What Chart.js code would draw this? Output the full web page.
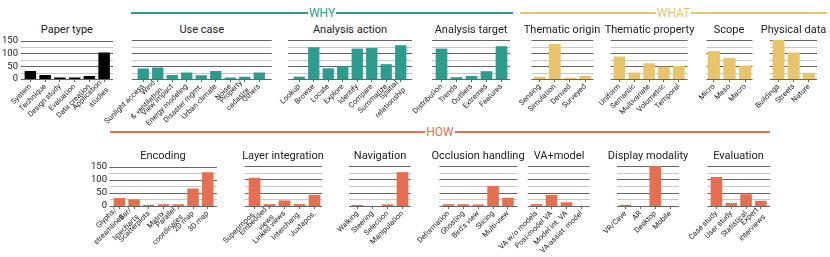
<!DOCTYPE html>
<html>
<head>
<meta charset="utf-8">
<script src="https://cdn.jsdelivr.net/npm/chart.js@4"></script>
<style>
  body { margin: 0; width: 830px; height: 257px; background: #fff; position: relative; overflow: hidden; font-family: Roboto, sans-serif; }
  canvas { position: absolute; }
  .title { position: absolute; font-size: 11px; color: #222; text-align: center; white-space: nowrap; }
  .sect { position: absolute; height: 14px; display: flex; align-items: center; font-size: 12px; }
  .sect .ln { flex: 1; height: 2px; }
  .sect span { padding: 0 1px; line-height: 14px; }
</style>
</head>
<body>
<script>
// ---- data ----
const paperTypeLabels = ["System", "Technique", "Design study", "Evaluation", "Data creation", ["Application", "studies"]];
const paperTypeValues = [31, 16, 6, 6, 12, 104];

const useCaseLabels = ["Sunlight access", ["Wind", "& ventilation"], "View impact", "Energy modeling", "Disaster mgmt.", "Urban climate", "Noise", ["Property", "cadastre"], "Others"];
const useCaseValues = [40, 44, 15, 25, 14, 31, 6, 9, 25];

const actionLabels = ["Lookup", "Browse", "Locate", "Explore", "Identify", "Compare", "Summarize", ["Spatial", "relationship"]];
const actionValues = [9, 122, 41, 49, 117, 119, 57, 130];

const targetLabels = ["Distribution", "Trends", "Outliers", "Extremes", "Features"];
const targetValues = [117, 7, 12, 30, 126];

const originLabels = ["Sensing", "Simulation", "Derived", "Surveyed"];
const originValues = [9, 135, 5, 12];

const propertyLabels = ["Uniform", "Semantic", "Multivariate", "Volumetric", "Temporal"];
const propertyValues = [87, 25, 61, 47, 50];

const scopeLabels = ["Micro", "Meso", "Macro"];
const scopeValues = [107, 80, 52];

const physicalLabels = ["Buildings", "Streets", "Nature"];
const physicalValues = [150, 102, 24];

const encodingLabels = [["Glyphs/", "streamlines"], ["Bar/", "linecharts"], "Scatterplots", "Matrix", ["Parallel", "coordinates"], "2D map", "3D map"];
const encodingValues = [31, 26, 5, 7, 7, 67, 129];

const layerLabels = ["Superimpos.", ["Embedded", "views"], "Linked views", "Interchang.", "Juxtapos."];
const layerValues = [106, 7, 21, 7, 42];

const navLabels = ["Walking", "Steering", "Selection", "Manipulation"];
const navValues = [4, 0, 6, 127];

const occlusionLabels = ["Deformation", "Ghosting", "Bird's view", "Slicing", "Multi-view"];
const occlusionValues = [7, 7, 6, 75, 31];

const vaModelLabels = ["VA w/o models", "Post-model VA", "Model int. VA", "VA-assist. model"];
const vaModelValues = [7, 42, 14, 0];

const displayLabels = ["VR/Cave", "AR", "Desktop", "Mobile"];
const displayValues = [5, 0, 150, 0];

const evalLabels = ["Case study", "User study", "Statistical", ["Expert", "interviews"]];
const evalValues = [109, 11, 44, 20];

const yGrid = [0, 25, 50, 75, 100, 125, 150];
const yTicks = [0, 50, 100, 150];

// ---- colours ----
const BLACK = "#000000";
const TEAL = "#2a9d8f";
const YELLOW = "#e9c46a";
const RED = "#e76f51";

// ---- layout ----
const PADL = 70, PADT = 10, PADR = 8, XH = 60;
const LH = 10;         // line height of x labels
const LBL_DX = 0, LBL_DY = 6.5;

// x0/x1: category range, g0/g1: extent of the grid lines
const panels = [
    { title: "Paper type", labels: paperTypeLabels, values: paperTypeValues, color: BLACK, x0: 23, x1: 111.5, g0: 20.7, g1: 113, top: 40, bottom: 79, yLabels: true },
    { title: "Use case", labels: useCaseLabels, values: useCaseValues, color: TEAL, x0: 136, x1: 266.5, g0: 131.7, g1: 271.7, top: 40, bottom: 79 },
    { title: "Analysis action", labels: actionLabels, values: actionValues, color: TEAL, x0: 292, x1: 408, g0: 288, g1: 412, top: 40, bottom: 79 },
    { title: "Analysis target", labels: targetLabels, values: targetValues, color: TEAL, x0: 434, x1: 509, g0: 432, g1: 510, top: 40, bottom: 79 },
    { title: "Thematic origin", labels: originLabels, values: originValues, color: YELLOW, x0: 531.6, x1: 592.4, g0: 531, g1: 593, top: 40, bottom: 79 },
    { title: "Thematic property", labels: propertyLabels, values: propertyValues, color: YELLOW, x0: 612.4, x1: 686.6, g0: 611, g1: 688, top: 40, bottom: 79 },
    { title: "Scope", labels: scopeLabels, values: scopeValues, color: YELLOW, x0: 705.5, x1: 752.5, g0: 706, g1: 752, top: 40, bottom: 79 },
    { title: "Physical data", labels: physicalLabels, values: physicalValues, color: YELLOW, x0: 771, x1: 816.5, g0: 770, g1: 817, top: 40, bottom: 79 },

    { title: "Encoding", labels: encodingLabels, values: encodingValues, color: RED, x0: 111.8, x1: 214.9, g0: 109.3, g1: 216.7, top: 166, bottom: 206, yLabels: true },
    { title: "Layer integration", labels: layerLabels, values: layerValues, color: RED, x0: 246.5, x1: 321.5, g0: 244.3, g1: 321.7, top: 166, bottom: 206 },
    { title: "Navigation", labels: navLabels, values: navValues, color: RED, x0: 350.3, x1: 410.3, g0: 349.3, g1: 411, top: 166, bottom: 206 },
    { title: "Occlusion handling", labels: occlusionLabels, values: occlusionValues, color: RED, x0: 440.6, x1: 515, g0: 439, g1: 517, top: 166, bottom: 206 },
    { title: "VA+model", labels: vaModelLabels, values: vaModelValues, color: RED, x0: 529.3, x1: 589.3, g0: 528, g1: 590, top: 166, bottom: 206 },
    { title: "Display modality", labels: displayLabels, values: displayValues, color: RED, x0: 618, x1: 677.6, g0: 617, g1: 679, top: 166, bottom: 206 },
    { title: "Evaluation", labels: evalLabels, values: evalValues, color: RED, x0: 708.6, x1: 767.9, g0: 707, g1: 770, top: 166, bottom: 206 }
];

const sections = [
    { text: "WHY", color: TEAL, x0: 131, x1: 513, y: 12.5 },
    { text: "WHAT", color: YELLOW, x0: 520, x1: 827, y: 12.5 },
    { text: "HOW", color: RED, x0: 110, x1: 770, y: 132 }
];

sections.forEach(s => {
    const d = document.createElement("div");
    d.className = "sect";
    d.style.left = s.x0 + "px";
    d.style.width = (s.x1 - s.x0) + "px";
    d.style.top = (s.y - 7) + "px";
    d.style.color = s.color;
    d.innerHTML = '<div class="ln" style="background:' + s.color + '"></div><span>' + s.text +
        '</span><div class="ln" style="background:' + s.color + '"></div>';
    document.body.appendChild(d);
});

// horizontal grid lines, a bit wider than the bars
const gridPlugin = {
    id: "hgrid",
    beforeDatasetsDraw(chart, args, opts) {
        const { ctx, chartArea, scales: { y } } = chart;
        ctx.save();
        ctx.lineWidth = 1;
        [false, true].forEach(major => {
            ctx.strokeStyle = major ? "#666" : "#c8c8c8";
            yGrid.filter(v => yTicks.includes(v) === major).forEach(v => {
                const py = Math.round(y.getPixelForValue(v)) + 0.5;
                ctx.beginPath();
                ctx.moveTo(chartArea.left - opts.extL, py);
                ctx.lineTo(chartArea.right + opts.extR, py);
                ctx.stroke();
            });
        });
        ctx.restore();
    }
};

// rotated category labels
const xLabelPlugin = {
    id: "xlabels",
    afterDraw(chart) {
        const { ctx, chartArea, scales: { x } } = chart;
        ctx.save();
        ctx.font = "7.5px Roboto";
        ctx.fillStyle = "#222";
        ctx.textAlign = "right";
        ctx.textBaseline = "middle";
        chart.data.labels.forEach((lab, i) => {
            const lines = Array.isArray(lab) ? lab : [lab];
            ctx.save();
            ctx.translate(x.getPixelForTick(i) + LBL_DX, chartArea.bottom + LBL_DY);
            ctx.rotate(-Math.PI / 4);
            lines.forEach((t, j) => ctx.fillText(t, 0, (j - (lines.length - 1) / 2) * LH));
            ctx.restore();
        });
        ctx.restore();
    }
};

function makePanel(p) {
    const t = document.createElement("div");
    t.className = "title";
    t.textContent = p.title;
    t.style.left = ((p.g0 + p.g1) / 2 - 60) + "px";
    t.style.width = "120px";
    t.style.top = (p.top - 17) + "px";
    document.body.appendChild(t);

    const c = document.createElement("canvas");
    const w = (p.x1 - p.x0) + PADL + PADR;
    const h = (p.bottom - p.top) + PADT + XH;
    c.width = Math.ceil(w);
    c.height = h;
    c.style.left = (p.x0 - PADL) + "px";
    c.style.top = (p.top - PADT) + "px";
    document.body.appendChild(c);

    new Chart(c, {
        type: "bar",
        data: {
            labels: p.labels,
            datasets: [{
                data: p.values,
                backgroundColor: p.color,
                categoryPercentage: 1,
                barPercentage: 0.78
            }]
        },
        plugins: [gridPlugin, xLabelPlugin],
        options: {
            responsive: false,
            animation: false,
            layout: { padding: { top: PADT, right: c.width - w + PADR, left: 0, bottom: 0 } },
            plugins: {
                legend: { display: false },
                tooltip: { enabled: false },
                hgrid: { extL: p.x0 - p.g0, extR: p.g1 - p.x1 }
            },
            scales: {
                x: {
                    afterFit: s => { s.height = XH; },
                    border: { display: false },
                    grid: { drawOnChartArea: false, drawTicks: true, tickLength: 3, offset: false, color: "#666" },
                    ticks: { display: false }
                },
                y: {
                    min: 0, max: 150,
                    afterFit: s => { s.width = PADL; },
                    border: { display: false },
                    grid: { display: false, drawTicks: false },
                    ticks: {
                        stepSize: 25, padding: 5, autoSkip: false,
                        display: !!p.yLabels,
                        color: "#222",
                        font: { family: "Roboto", size: 9.5 },
                        callback: v => yTicks.includes(v) ? v : ""
                    }
                }
            }
        }
    });
}

panels.forEach(makePanel);
</script>
</body>
</html>
